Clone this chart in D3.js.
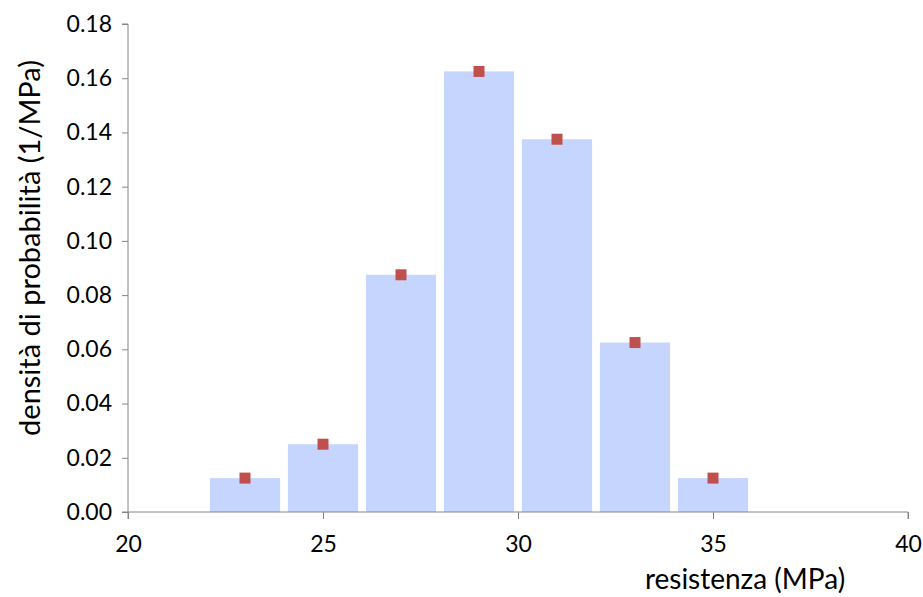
<!DOCTYPE html>
<html>
<head>
<meta charset="utf-8">
<script src="https://cdn.jsdelivr.net/npm/d3@7"></script>
<style>
  body { margin: 0; background: #fff; }
  text { font-family: Lato, "Open Sans", sans-serif; fill: #000; }
</style>
</head>
<body>
<div id="chart"></div>
<script>
// class centres (MPa) and probability density (1/MPa)
var centres = [23, 25, 27, 29, 31, 33, 35];
var density = [0.0125, 0.025, 0.0875, 0.1625, 0.1375, 0.0625, 0.0125];
var xTicks = [20, 25, 30, 35, 40];
var yTicks = [0, 0.02, 0.04, 0.06, 0.08, 0.10, 0.12, 0.14, 0.16, 0.18];

var W = 923, H = 597;
var margin = {top: 24, right: 15, bottom: 85, left: 128};

var x = d3.scaleLinear()
  .domain([20, 40])
  .range([margin.left, W - margin.right]);
var y = d3.scaleLinear()
  .domain([0, 0.18])
  .range([H - margin.bottom, margin.top]);

var svg = d3.select("#chart")
  .append("svg")
    .attr("width", W)
    .attr("height", H);

var data = centres.map(function(c, i) { return {x: c, y: density[i]}; });
var halfW = 0.9;

// bars
svg.append("g")
  .selectAll("rect")
  .data(data)
  .enter()
  .append("rect")
    .attr("x", function(d) { return x(d.x - halfW); })
    .attr("width", function(d) { return x(d.x + halfW) - x(d.x - halfW); })
    .attr("y", function(d) { return y(d.y); })
    .attr("height", function(d) { return y(0) - y(d.y); })
    .style("fill", "#c6d5fd");

// axes
var yax = d3.axisLeft(y)
  .tickValues(yTicks)
  .tickSize(6)
  .tickPadding(10)
  .tickFormat(d3.format(".2f"));
var xax = d3.axisBottom(x)
  .tickValues(xTicks)
  .tickSize(7)
  .tickPadding(17);

var gy = svg.append("g")
  .attr("transform", "translate(" + margin.left + ",0)")
  .call(yax);
var gx = svg.append("g")
  .attr("transform", "translate(0," + y(0) + ")")
  .call(xax);

[gx, gy].forEach(function(g) {
  g.selectAll("path, line").style("stroke", "#868686");
  g.select(".domain").attr("d", g === gx
    ? "M" + x(20) + ",7V0H" + x(40) + "V7"
    : "M-6," + y(0.18) + "H0V" + y(0) + "H-6");
  g.selectAll("text")
    .style("font-size", "23px")
    .style("font-family", "Lato, 'Open Sans', sans-serif")
    .style("fill", "#000");
});

// markers
var s = 11;
svg.append("g")
  .selectAll("rect")
  .data(data)
  .enter()
  .append("rect")
    .attr("x", function(d) { return x(d.x) - s / 2; })
    .attr("y", function(d) { return y(d.y) - s / 2; })
    .attr("width", s)
    .attr("height", s)
    .style("fill", "#c0504d");

// axis titles
svg.append("text")
  .attr("x", 745)
  .attr("y", 589)
  .attr("text-anchor", "middle")
  .style("font-size", "28px")
  .text("resistenza (MPa)");

svg.append("text")
  .attr("transform", "translate(40,248) rotate(-90)")
  .attr("text-anchor", "middle")
  .style("font-size", "29px")
  .text("densità di probabilità (1/MPa)");
</script>
</body>
</html>
